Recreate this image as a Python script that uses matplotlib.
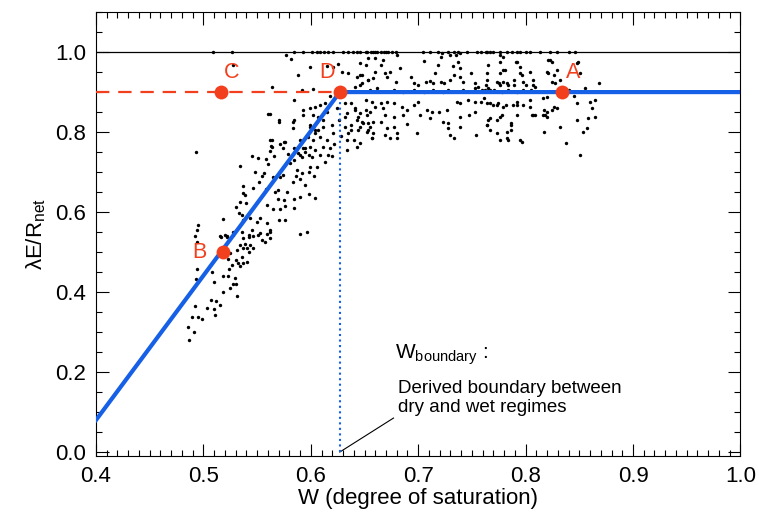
import numpy as np
import matplotlib.pyplot as plt
from matplotlib.ticker import MultipleLocator, FormatStrFormatter

plt.rcParams['font.family'] = ['Liberation Sans', 'DejaVu Sans']
plt.rcParams['mathtext.default'] = 'regular'

# scatter cloud (W, lambdaE/Rnet)
dry_tail = [
    (0.492, 0.54), (0.494, 0.525), (0.494, 0.458), (0.493, 0.433), (0.508, 0.45),
    (0.510, 0.425), (0.518, 0.44), (0.523, 0.44), (0.529, 0.435), (0.525, 0.41),
    (0.528, 0.42), (0.530, 0.42), (0.518, 0.40), (0.531, 0.39), (0.507, 0.38),
    (0.512, 0.378), (0.515, 0.368), (0.492, 0.365), (0.503, 0.36), (0.510, 0.358),
    (0.511, 0.343), (0.489, 0.338), (0.495, 0.338), (0.499, 0.333), (0.486, 0.313),
    (0.491, 0.30), (0.487, 0.28), (0.515, 0.54), (0.520, 0.543), (0.522, 0.54),
    (0.528, 0.55), (0.536, 0.55), (0.542, 0.537), (0.546, 0.54), (0.551, 0.543),
    (0.555, 0.53), (0.559, 0.545), (0.562, 0.55), (0.557, 0.525), (0.534, 0.518),
    (0.539, 0.52), (0.541, 0.51), (0.543, 0.518), (0.546, 0.51), (0.537, 0.51),
    (0.542, 0.50), (0.531, 0.505), (0.525, 0.497), (0.536, 0.488), (0.530, 0.48),
    (0.532, 0.472), (0.537, 0.472), (0.541, 0.475), (0.527, 0.468), (0.523, 0.483),
    (0.524, 0.458), (0.534, 0.465), (0.495, 0.568), (0.518, 0.583), (0.494, 0.555),
]
dry_rise = [
    (0.493, 0.75), (0.534, 0.715), (0.545, 0.74), (0.551, 0.735), (0.558, 0.733),
    (0.562, 0.753), (0.563, 0.765), (0.564, 0.78), (0.571, 0.77), (0.575, 0.775),
    (0.570, 0.825), (0.583, 0.81), (0.583, 0.825), (0.555, 0.69), (0.556, 0.698),
    (0.537, 0.665), (0.537, 0.648), (0.539, 0.643), (0.534, 0.625), (0.540, 0.623),
    (0.530, 0.613), (0.533, 0.598), (0.536, 0.593), (0.537, 0.58), (0.543, 0.585),
    (0.553, 0.585), (0.558, 0.658), (0.567, 0.65), (0.569, 0.655), (0.578, 0.65),
    (0.569, 0.633), (0.559, 0.618), (0.565, 0.608), (0.571, 0.608), (0.576, 0.615),
    (0.584, 0.633), (0.584, 0.61), (0.590, 0.638), (0.598, 0.645), (0.604, 0.635),
    (0.583, 0.675), (0.590, 0.683), (0.598, 0.70), (0.592, 0.698), (0.587, 0.705),
    (0.565, 0.688), (0.571, 0.688), (0.574, 0.693), (0.581, 0.723), (0.584, 0.73),
    (0.588, 0.748), (0.595, 0.75), (0.598, 0.743), (0.601, 0.738), (0.606, 0.713),
    (0.599, 0.713), (0.592, 0.738), (0.593, 0.76), (0.590, 0.78), (0.597, 0.788),
    (0.599, 0.813), (0.604, 0.798), (0.607, 0.805), (0.590, 0.545), (0.596, 0.55),
    (0.550, 0.575), (0.559, 0.573), (0.562, 0.555), (0.553, 0.548), (0.545, 0.555),
    (0.542, 0.543), (0.537, 0.535), (0.528, 0.543), (0.522, 0.538), (0.516, 0.538),
    (0.562, 0.535), (0.570, 0.58), (0.576, 0.58), (0.560, 0.845), (0.528, 0.968),
    (0.548, 0.70), (0.552, 0.675), (0.546, 0.66), (0.560, 0.72), (0.566, 0.74),
    (0.579, 0.745), (0.586, 0.69), (0.595, 0.668), (0.603, 0.69), (0.575, 0.63),
]
near_d = [
    (0.577, 0.993), (0.582, 0.983), (0.599, 0.963), (0.588, 0.943), (0.615, 0.965),
    (0.621, 0.963), (0.625, 0.97), (0.629, 0.95), (0.635, 0.948), (0.643, 0.938),
    (0.646, 0.973), (0.648, 0.943), (0.653, 0.93), (0.641, 0.913), (0.646, 0.918),
    (0.564, 0.913), (0.592, 0.905), (0.602, 0.908), (0.584, 0.88), (0.593, 0.855),
    (0.599, 0.86), (0.604, 0.863), (0.609, 0.868), (0.613, 0.873), (0.570, 0.83),
    (0.562, 0.845), (0.584, 0.83), (0.593, 0.843), (0.602, 0.843), (0.607, 0.838),
    (0.615, 0.85), (0.611, 0.83), (0.599, 0.818), (0.604, 0.805), (0.611, 0.813),
    (0.620, 0.818), (0.621, 0.798), (0.615, 0.78), (0.609, 0.788), (0.602, 0.78),
    (0.595, 0.76), (0.599, 0.763), (0.604, 0.755), (0.611, 0.763), (0.618, 0.76),
    (0.616, 0.743), (0.609, 0.743), (0.562, 0.78), (0.564, 0.763), (0.576, 0.775),
    (0.574, 0.76), (0.584, 0.76), (0.590, 0.743), (0.637, 0.873), (0.641, 0.855),
    (0.646, 0.848), (0.643, 0.83), (0.646, 0.813), (0.637, 0.805), (0.653, 0.805),
    (0.640, 0.78), (0.646, 0.773), (0.653, 0.823), (0.632, 0.838), (0.634, 0.78),
    (0.634, 0.755), (0.632, 0.873), (0.641, 0.86), (0.634, 0.848), (0.644, 0.838),
    (0.652, 0.843), (0.648, 0.825), (0.637, 0.818), (0.644, 0.805), (0.657, 0.785),
    (0.643, 0.763), (0.632, 0.813), (0.635, 0.798), (0.618, 0.89), (0.624, 0.86),
    (0.626, 0.83), (0.628, 0.79), (0.622, 0.77), (0.613, 0.725), (0.620, 0.74),
]
plateau = [
    (0.653, 0.985), (0.660, 0.985), (0.667, 0.98), (0.665, 0.968), (0.660, 0.95),
    (0.651, 0.968), (0.680, 0.993), (0.683, 0.96), (0.705, 0.978), (0.721, 0.988),
    (0.722, 0.998), (0.730, 0.993), (0.735, 0.993), (0.739, 0.998), (0.737, 0.975),
    (0.732, 0.965), (0.739, 0.96), (0.718, 0.968), (0.716, 0.948), (0.765, 0.968),
    (0.646, 0.943), (0.648, 0.923), (0.653, 0.93), (0.658, 0.935), (0.669, 0.948),
    (0.671, 0.938), (0.674, 0.95), (0.679, 0.925), (0.693, 0.938), (0.696, 0.923),
    (0.700, 0.918), (0.707, 0.925), (0.711, 0.928), (0.714, 0.923), (0.721, 0.925),
    (0.724, 0.923), (0.730, 0.93), (0.733, 0.943), (0.739, 0.938), (0.742, 0.925),
    (0.749, 0.948), (0.753, 0.923), (0.756, 0.913), (0.763, 0.918), (0.765, 0.91),
    (0.655, 0.905), (0.662, 0.91), (0.677, 0.905), (0.686, 0.90), (0.696, 0.905),
    (0.705, 0.90), (0.714, 0.905), (0.723, 0.90), (0.728, 0.905), (0.742, 0.905),
    (0.753, 0.91), (0.759, 0.905), (0.651, 0.88), (0.657, 0.875), (0.660, 0.863),
    (0.665, 0.873), (0.671, 0.875), (0.677, 0.873), (0.685, 0.863), (0.690, 0.855),
    (0.696, 0.868), (0.700, 0.875), (0.708, 0.855), (0.713, 0.85), (0.719, 0.85),
    (0.727, 0.855), (0.736, 0.875), (0.739, 0.873), (0.746, 0.88), (0.753, 0.875),
    (0.758, 0.875), (0.651, 0.855), (0.655, 0.85), (0.667, 0.86), (0.669, 0.843),
    (0.677, 0.838), (0.686, 0.843), (0.702, 0.843), (0.711, 0.835), (0.723, 0.825),
    (0.728, 0.823), (0.739, 0.838), (0.747, 0.843), (0.753, 0.85), (0.765, 0.83),
    (0.649, 0.823), (0.655, 0.813), (0.658, 0.825), (0.665, 0.825), (0.671, 0.81),
    (0.677, 0.813), (0.680, 0.798), (0.669, 0.793), (0.658, 0.798), (0.652, 0.80),
    (0.657, 0.785), (0.674, 0.785), (0.680, 0.785), (0.699, 0.798), (0.728, 0.81),
    (0.730, 0.793), (0.739, 0.813), (0.733, 0.785), (0.754, 0.793), (0.690, 0.82),
    (0.776, 0.993), (0.776, 0.975), (0.781, 0.955), (0.792, 0.975), (0.795, 0.963),
    (0.804, 0.95), (0.797, 0.943), (0.789, 0.93), (0.779, 0.925), (0.784, 0.918),
    (0.776, 0.918), (0.767, 0.905), (0.807, 0.918), (0.823, 0.98), (0.821, 0.948),
    (0.767, 0.873), (0.773, 0.868), (0.782, 0.868), (0.792, 0.875), (0.804, 0.88),
    (0.820, 0.888), (0.776, 0.838), (0.792, 0.843), (0.807, 0.843), (0.816, 0.843),
    (0.764, 0.818), (0.773, 0.83), (0.786, 0.823), (0.795, 0.78), (0.776, 0.78),
    (0.767, 0.805), (0.786, 0.805), (0.783, 0.785), (0.779, 0.988), (0.791, 0.975),
    (0.779, 0.955), (0.776, 0.948), (0.764, 0.948), (0.773, 0.925), (0.775, 0.923),
    (0.783, 0.923), (0.789, 0.918), (0.795, 0.948), (0.798, 0.925), (0.800, 0.918),
    (0.807, 0.93), (0.809, 0.913), (0.805, 0.905), (0.798, 0.905), (0.792, 0.90),
    (0.784, 0.905), (0.778, 0.90), (0.771, 0.905), (0.764, 0.93), (0.762, 0.905),
    (0.821, 0.98), (0.825, 0.975), (0.820, 0.95), (0.826, 0.943), (0.829, 0.955),
    (0.825, 0.925), (0.827, 0.923), (0.832, 0.93), (0.848, 0.973), (0.851, 0.948),
    (0.849, 0.975), (0.868, 0.923), (0.761, 0.885), (0.764, 0.873), (0.770, 0.868),
    (0.774, 0.873), (0.779, 0.863), (0.788, 0.868), (0.792, 0.868), (0.798, 0.868),
    (0.804, 0.863), (0.816, 0.885), (0.817, 0.855), (0.820, 0.85), (0.825, 0.855),
    (0.826, 0.863), (0.829, 0.86), (0.764, 0.818), (0.767, 0.835), (0.778, 0.843),
    (0.786, 0.818), (0.773, 0.798), (0.783, 0.80), (0.784, 0.78), (0.797, 0.775),
    (0.806, 0.843), (0.809, 0.843), (0.818, 0.843), (0.820, 0.838), (0.832, 0.813),
    (0.838, 0.773), (0.848, 0.873), (0.848, 0.83), (0.853, 0.80), (0.858, 0.835),
    (0.865, 0.838), (0.860, 0.875), (0.865, 0.88), (0.857, 0.81), (0.851, 0.743),
    (0.817, 0.80), (0.840, 0.905), (0.845, 0.89), (0.855, 0.91), (0.862, 0.86),
]
# points sitting on the 1.0 line
on_top = [
    0.509, 0.527, 0.584, 0.593, 0.601, 0.609, 0.616, 0.630, 0.635, 0.639, 0.646,
    0.652, 0.651, 0.656, 0.660, 0.665, 0.670, 0.676, 0.679, 0.704, 0.711, 0.718,
    0.737, 0.755, 0.758, 0.764, 0.763, 0.767, 0.770, 0.776, 0.792, 0.795, 0.800,
    0.804, 0.823, 0.829, 0.840, 0.658, 0.662, 0.668, 0.672, 0.606, 0.612, 0.621,
    0.643, 0.728, 0.733, 0.745, 0.783, 0.787, 0.813, 0.846,
]

w_pts = [p[0] for p in dry_tail + dry_rise + near_d + plateau] + on_top
r_pts = [p[1] for p in dry_tail + dry_rise + near_d + plateau] + [1.0] * len(on_top)

# fitted two-regime line and reference points
w_bound = 0.627
r_plateau = 0.9
fit_w = [0.4, w_bound, 1.0]
fit_r = [0.08, r_plateau, r_plateau]
pt_names = ['A', 'B', 'C', 'D']
pt_w = [0.834, 0.518, 0.516, 0.627]
pt_r = [0.9, 0.5, 0.9, 0.9]

red = '#f2401e'
blue = '#1560e6'

fig = plt.figure(figsize=(7.59, 5.26), dpi=100)
ax = fig.add_axes([0.1265, 0.133, 0.849, 0.844])

ax.axhline(1.0, color='black', lw=0.9, zorder=1)
ax.scatter(w_pts, r_pts, s=6, color='black', zorder=2, linewidths=0)
ax.plot([0.4, w_bound], [r_plateau, r_plateau], color=red, lw=1.6,
        dashes=(6, 4), zorder=3)
ax.plot([w_bound, w_bound], [0, r_plateau], color=blue, lw=1.5, ls=':', zorder=3)
ax.plot(fit_w, fit_r, color=blue, lw=3, zorder=4)
ax.plot(pt_w, pt_r, 'o', color=red, ms=10, mec='none', zorder=5)

offs = {'A': (0.01, 0.05), 'B': (-0.022, 0.0), 'C': (0.01, 0.05), 'D': (-0.012, 0.05)}
for n, w, r in zip(pt_names, pt_w, pt_r):
    dx, dy = offs[n]
    ax.text(w + dx, r + dy, n, color=red, fontsize=15.5, ha='center', va='center',
            zorder=6)

ax.plot([w_bound, 0.677], [0.0, 0.085], color='black', lw=0.8)
ax.text(0.678, 0.243, r'$W_{boundary}$ :', fontsize=15, va='center')
ax.text(0.681, 0.135, 'Derived boundary between\ndry and wet regimes',
        fontsize=13.5, va='center', linespacing=1.2)

ax.set_xlim(0.4, 1.0)
ax.set_ylim(-0.01, 1.1)
ax.set_xticks([0.4, 0.5, 0.6, 0.7, 0.8, 0.9, 1.0])
ax.set_yticks([0.0, 0.2, 0.4, 0.6, 0.8, 1.0])
ax.xaxis.set_minor_locator(MultipleLocator(0.01))
ax.yaxis.set_minor_locator(MultipleLocator(0.05))
ax.xaxis.set_major_formatter(FormatStrFormatter('%.1f'))
ax.yaxis.set_major_formatter(FormatStrFormatter('%.1f'))
ax.tick_params(which='both', direction='in', top=True, right=True, labelsize=16,
               width=0.8)
ax.tick_params(which='major', length=9, pad=7)
ax.tick_params(which='minor', length=4.5)
for s in ax.spines.values():
    s.set_linewidth(0.8)
ax.set_xlabel('W (degree of saturation)', fontsize=16, labelpad=1)
ax.set_ylabel(r'$\lambda$E/R$_{net}$', fontsize=16, labelpad=5)

fig.savefig('out.png', dpi=100)
